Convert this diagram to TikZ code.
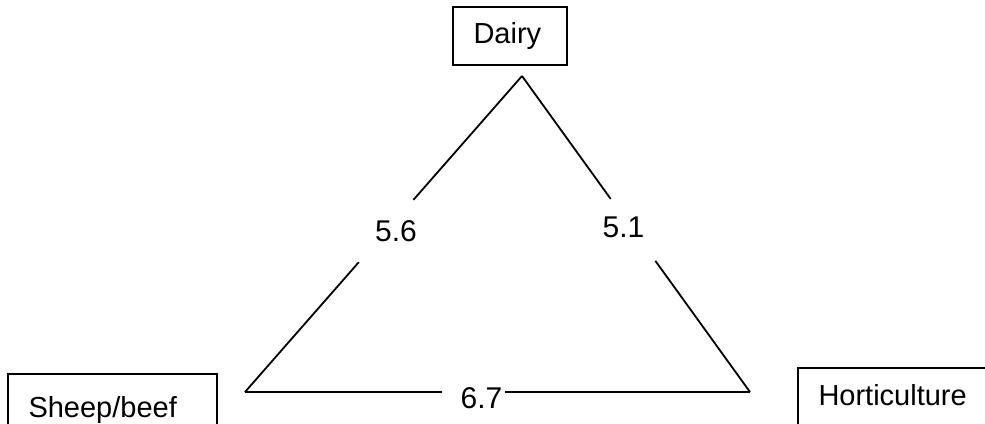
\documentclass[tikz,border=0pt]{standalone}
\usepackage{fontspec}
\setmainfont{Liberation Sans}
\usetikzlibrary{calc}
\tikzset{
  sector/.style={draw,rectangle,line width=2pt,inner xsep=20.5pt,inner ysep=0pt,
    align=left,font=\fontsize{29}{34}\selectfont,text height=20.5pt,text depth=6pt},
  link/.style={line width=1.8pt},
  score/.style={inner sep=0pt,font=\fontsize{30}{36}\selectfont},
}
\begin{document}
\begin{tikzpicture}[x=1pt,y=-1pt]
\useasboundingbox (0,0) rectangle (985,423);
% the three farm types
\node[sector,text width=73pt,minimum height=58pt] (dairy) at (510,36) {Dairy};
\node[sector,text width=168pt,minimum height=71.5pt] (sheep) at (112.5,409.75) {Sheep/beef};
\node[sector,text width=159pt,minimum height=59.5pt] (hort) at (898,397.75) {Horticulture};
% corners of the triangle
\coordinate (apex) at (522,76);
\coordinate (sw) at (245,392);
\coordinate (se) at (750,392);
% sides, broken where the numbers sit
\draw[link] (apex) -- ($(apex)!0.392!(sw)$) ($(apex)!0.589!(sw)$) -- (sw);
\draw[link] (apex) -- ($(apex)!0.389!(se)$) ($(apex)!0.585!(se)$) -- (se);
\draw[link] (sw) -- ($(sw)!0.390!(se)$) ($(sw)!0.515!(se)$) -- (se);
\node[score] (ds) at (396,231) {5.6};
\node[score] (dh) at (623.5,227) {5.1};
\node[score] (sh) at (481.5,398.5) {6.7};
\end{tikzpicture}
\end{document}
